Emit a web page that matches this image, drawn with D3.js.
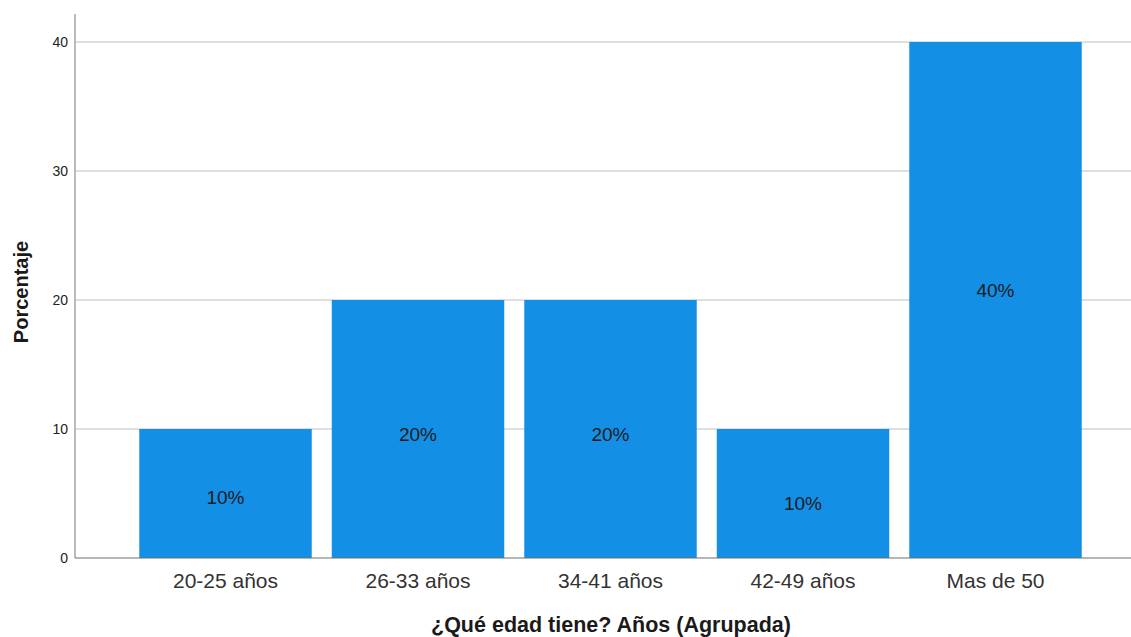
<!DOCTYPE html>
<html><head><meta charset="utf-8">
<script src="https://cdn.jsdelivr.net/npm/d3@7/dist/d3.min.js"></script>
<style>body{margin:0;background:#fff;}svg{display:block;font-family:"Liberation Sans",Arial,sans-serif;}</style>
</head><body>
<svg id="c" width="1131" height="637"></svg>
<script>
const categories = ["20-25 años","26-33 años","34-41 años","42-49 años","Mas de 50"];
const values = [10, 20, 20, 10, 40];
const valueLabels = ["10%","20%","20%","10%","40%"];
const labelPos = [4.7, 9.6, 9.6, 4.2, 20.7];
const yTicks = [0, 10, 20, 30, 40];
const xTitle = "¿Qué edad tiene? Años (Agrupada)";
const yTitle = "Porcentaje";

const svg = d3.select("#c");
const x = d3.scaleBand().domain(categories).range([129.25, 1091.75]).paddingInner(0.104).paddingOuter(0.052);
const y = d3.scaleLinear().domain([0, 40]).range([558, 42]);
const x0 = 75, xEnd = 1131, yTop = 14;

// gridlines
svg.append("g").selectAll("line").data(yTicks.filter(d => d > 0)).join("line")
  .attr("x1", x0).attr("x2", xEnd).attr("y1", d => y(d)).attr("y2", d => y(d))
  .attr("stroke", "#d4d4d4").attr("stroke-width", 1.5);

// bars
svg.append("g").selectAll("rect").data(values).join("rect")
  .attr("x", (d, i) => x(categories[i])).attr("width", x.bandwidth())
  .attr("y", d => y(d)).attr("height", d => y(0) - y(d))
  .attr("fill", "#1390e6");

// value labels
svg.append("g").selectAll("text").data(valueLabels).join("text")
  .attr("x", (d, i) => x(categories[i]) + x.bandwidth() / 2)
  .attr("y", (d, i) => y(labelPos[i]))
  .attr("text-anchor", "middle").attr("dominant-baseline", "central")
  .attr("font-size", 19).attr("fill", "#1a1a1a").text(d => d);

// y axis line
svg.append("line").attr("x1", x0).attr("x2", x0).attr("y1", yTop).attr("y2", y(0))
  .attr("stroke", "#a6a6a6").attr("stroke-width", 1.5);
// x axis line
svg.append("line").attr("x1", x0).attr("x2", xEnd).attr("y1", y(0)).attr("y2", y(0))
  .attr("stroke", "#6e6e6e").attr("stroke-width", 1.2);

// y tick labels
svg.append("g").selectAll("text").data(yTicks).join("text")
  .attr("x", 68).attr("y", d => y(d)).attr("text-anchor", "end")
  .attr("dominant-baseline", "central").attr("font-size", 14).attr("fill", "#222")
  .text(d => d);

// x tick labels
svg.append("g").selectAll("text").data(categories).join("text")
  .attr("x", d => x(d) + x.bandwidth() / 2).attr("y", 588)
  .attr("text-anchor", "middle").attr("font-size", 21).attr("fill", "#333")
  .text(d => d);

// axis titles
svg.append("text").attr("x", 611).attr("y", 632).attr("text-anchor", "middle")
  .attr("font-size", 21.5).attr("font-weight", "bold").attr("fill", "#1a1a1a").text(xTitle);
svg.append("text").attr("transform", "translate(28,292) rotate(-90)").attr("text-anchor", "middle")
  .attr("font-size", 20).attr("font-weight", "bold").attr("fill", "#1a1a1a").text(yTitle);
</script>
</body></html>
